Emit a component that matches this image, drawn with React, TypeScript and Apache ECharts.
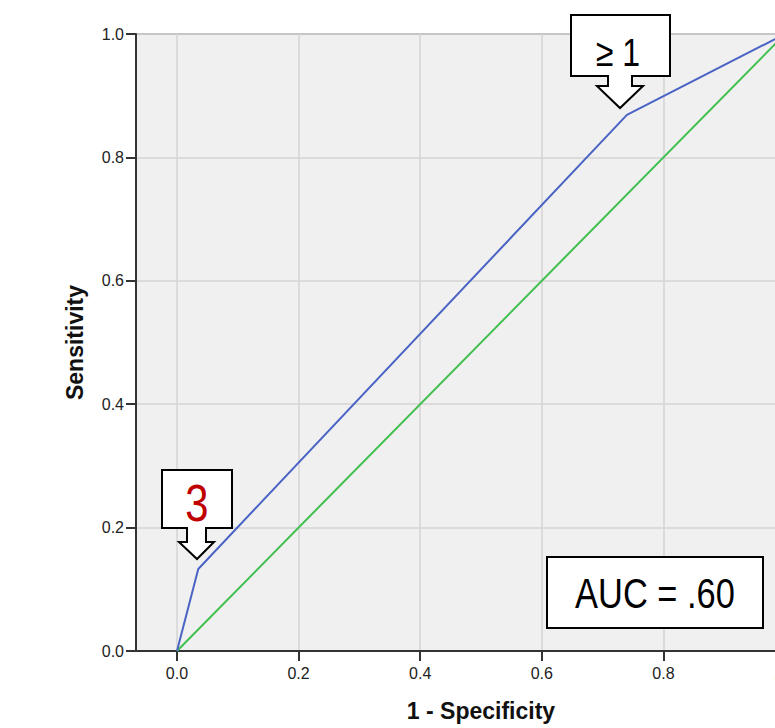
import React, { useEffect, useRef } from "react";
import * as echarts from "echarts";

// ROC curve points (1 - specificity, sensitivity)
const rocFpr = [0, 0.035, 0.74, 1];
const rocTpr = [0, 0.133, 0.869, 1];
// Reference (chance) line
const refFpr = [0, 1];
const refTpr = [0, 1];
// Tick values
const xTickValues = [0, 0.2, 0.4, 0.6, 0.8, 1.0];
const aucText = "AUC = .60";
const cutoffHigh = "≥ 1";
const cutoffLow = "3";

const calloutPoly = (l: number, t: number, r: number, b: number, sl: number, sr: number, sb: number, hl: number, hr: number, tipX: number, tipY: number) => [
  [l, t], [r, t], [r, b], [sr, b], [sr, sb], [hr, sb], [tipX, tipY], [hl, sb], [sl, sb], [sl, b], [l, b],
];

export default function App() {
  const ref = useRef<HTMLDivElement>(null);
  useEffect(() => {
    if (!ref.current) return;
    const chart = echarts.init(ref.current, null, { renderer: "svg" });
    const fmt = (v: number) => v.toFixed(1);
    chart.setOption({
      animation: false,
      backgroundColor: "#ffffff",
      grid: {
        left: 136,
        top: 34,
        width: 690,
        height: 617,
        show: true,
        backgroundColor: "#f0f0f0",
        borderColor: "#9a9a9a",
        borderWidth: 2,
      },
      xAxis: {
        type: "value",
        min: -0.0674,
        max: 1.0674,
        name: "1 - Specificity",
        nameLocation: "middle",
        nameGap: 48,
        nameTextStyle: { fontFamily: "Liberation Sans", fontWeight: "bold", fontSize: 23, color: "#111" },
        axisLine: { show: true, onZero: false, lineStyle: { color: "#333", width: 2 } },
        axisTick: { show: true, customValues: xTickValues, length: 10, lineStyle: { color: "#333", width: 2 } },
        axisLabel: { customValues: xTickValues, formatter: fmt, fontFamily: "Liberation Sans", fontSize: 16, color: "#222", margin: 14 },
        splitLine: { show: true, lineStyle: { color: "#d4d4d4", width: 1.5 } },
      },
      yAxis: {
        type: "value",
        min: 0,
        max: 1,
        interval: 0.2,
        name: "Sensitivity",
        nameLocation: "middle",
        nameGap: 50,
        nameTextStyle: { fontFamily: "Liberation Sans", fontWeight: "bold", fontSize: 23, color: "#111" },
        axisLine: { show: true, onZero: false, lineStyle: { color: "#333", width: 2 } },
        axisTick: { show: true, length: 10, lineStyle: { color: "#333", width: 2 } },
        axisLabel: { formatter: fmt, fontFamily: "Liberation Sans", fontSize: 16, color: "#222", margin: 12 },
        splitLine: { show: true, lineStyle: { color: "#d4d4d4", width: 1.5 } },
      },
      series: [
        {
          type: "line",
          data: refFpr.map((x, i) => [x, refTpr[i]]),
          symbol: "none",
          lineStyle: { color: "#3fbf4d", width: 2 },
          z: 3,
        },
        {
          type: "line",
          data: rocFpr.map((x, i) => [x, rocTpr[i]]),
          symbol: "none",
          lineStyle: { color: "#4a63c4", width: 2 },
          z: 4,
        },
      ],
      graphic: [
        {
          type: "polygon",
          z: 100,
          shape: { points: calloutPoly(571, 15, 670, 76, 608, 632, 86, 597, 643, 620, 108) },
          style: { fill: "#ffffff", stroke: "#000000", lineWidth: 2 },
        },
        {
          type: "text",
          z: 101,
          x: 618,
          y: 53,
          scaleX: 0.82,
          style: { text: cutoffHigh, fontFamily: "Liberation Sans", fontSize: 39, fill: "#000", align: "center", verticalAlign: "middle" },
        },
        {
          type: "polygon",
          z: 100,
          shape: { points: calloutPoly(162, 470, 232, 528, 187, 206, 542, 179, 214, 197, 559) },
          style: { fill: "#ffffff", stroke: "#000000", lineWidth: 2 },
        },
        {
          type: "text",
          z: 101,
          x: 197,
          y: 504,
          scaleX: 0.82,
          style: { text: cutoffLow, fontFamily: "Liberation Sans", fontSize: 51, fill: "#c00000", align: "center", verticalAlign: "middle" },
        },
        {
          type: "rect",
          z: 100,
          shape: { x: 547, y: 557, width: 216, height: 71 },
          style: { fill: "#ffffff", stroke: "#000000", lineWidth: 2 },
        },
        {
          type: "text",
          z: 101,
          x: 655,
          y: 593,
          scaleX: 0.82,
          style: { text: aucText, fontFamily: "Liberation Sans", fontSize: 42, fill: "#000", align: "center", verticalAlign: "middle" },
        },
      ],
    });
    return () => chart.dispose();
  }, []);
  return (
    <div style={{ position: "fixed", left: 0, top: 0, width: 775, height: 728, overflow: "hidden", background: "#fff" }}>
      <div ref={ref} style={{ width: 870, height: 728 }} />
    </div>
  );
}
